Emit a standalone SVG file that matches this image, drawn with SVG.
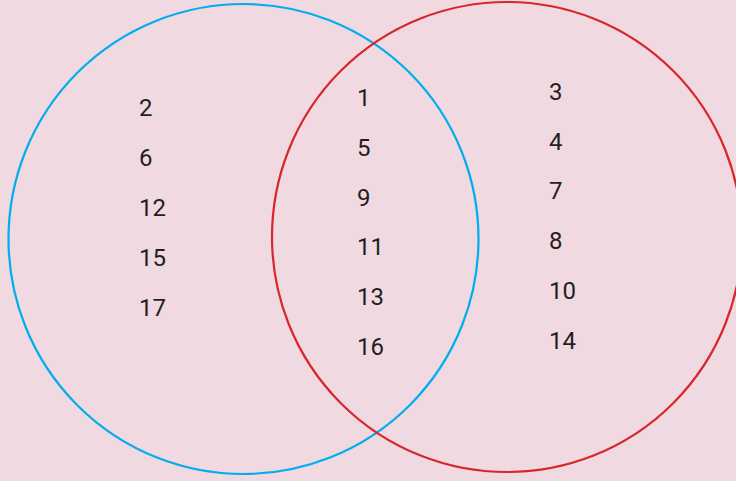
<svg xmlns="http://www.w3.org/2000/svg" width="736" height="481" viewBox="0 0 736 481">
<style>
.n{font-family:Roboto,"Liberation Sans",sans-serif;font-size:24px;fill:#231f20}
.c{fill:none;stroke-width:2.2}
</style>
<rect width="736" height="481" fill="#f0d9e0"/>
<g id="connectors"></g>
<g id="setA"><circle class="c" cx="243.5" cy="239" r="235" stroke="#00aeef"/></g>
<g id="setB"><circle class="c" cx="507" cy="237" r="235" stroke="#d7262c"/></g>
<g id="onlyA">
<text class="n" x="139" y="116">2</text>
<text class="n" x="139" y="166">6</text>
<text class="n" x="139" y="216">12</text>
<text class="n" x="139" y="266">15</text>
<text class="n" x="139" y="316">17</text>
</g>
<g id="both">
<text class="n" x="357" y="106">1</text>
<text class="n" x="357" y="156">5</text>
<text class="n" x="357" y="206">9</text>
<text class="n" x="357" y="255">11</text>
<text class="n" x="357" y="305">13</text>
<text class="n" x="357" y="355">16</text>
</g>
<g id="onlyB">
<text class="n" x="549" y="100">3</text>
<text class="n" x="549" y="150">4</text>
<text class="n" x="549" y="199">7</text>
<text class="n" x="549" y="249">8</text>
<text class="n" x="549" y="299">10</text>
<text class="n" x="549" y="349">14</text>
</g>
</svg>
